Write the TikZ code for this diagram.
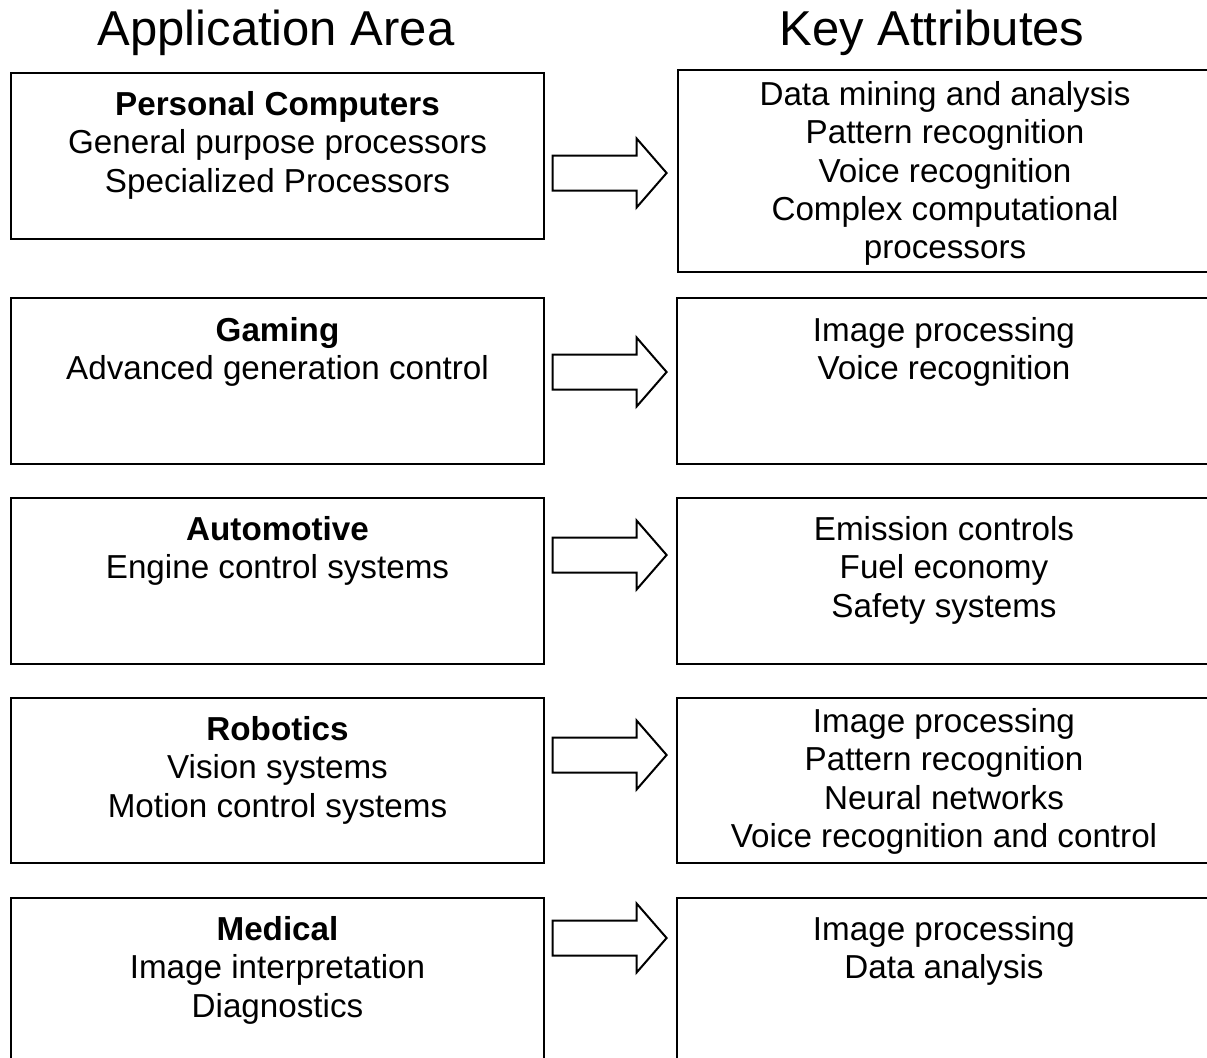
\documentclass[tikz,border=0pt]{standalone}
\usepackage{fontspec}
\setmainfont{Liberation Sans}
\usepackage{tikz}
\usetikzlibrary{positioning}
\usetikzlibrary{shapes.arrows}

\tikzset{areabox/.style={draw,line width=1pt,rectangle,inner sep=0pt,anchor=north west}}
\tikzset{boxtext/.style={align=center,inner sep=0pt,font=\fontsize{16.6}{19.15}\selectfont}}
\tikzset{heading/.style={anchor=base,inner sep=0pt,font=\fontsize{24.5}{29}\selectfont}}
\tikzset{blockarrow/.style={draw,line width=1pt,single arrow,single arrow head extend=8.5pt,
  single arrow tip angle=98,inner xsep=0pt,inner ysep=8.25pt,minimum height=57pt}}

\begin{document}
\begin{tikzpicture}[x=0.5pt,y=-0.5pt]
\useasboundingbox (0,0) rectangle (1207,1057);
\node[heading] (apphead) at (276,45) {Application Area};
\node[heading] (keyhead) at (932,45) {Key Attributes};
\begin{scope}
\clip (0,0) rectangle (1207,1057);
% application areas
\node[areabox,minimum width=266.5pt,minimum height=83pt] (app1) at (10,72) {};
\node[areabox,minimum width=266.5pt,minimum height=83pt] (app2) at (10,297) {};
\node[areabox,minimum width=266.5pt,minimum height=83pt] (app3) at (10,497) {};
\node[areabox,minimum width=266.5pt,minimum height=82.5pt] (app4) at (10,697) {};
\node[areabox,minimum width=266.5pt,minimum height=90pt] (app5) at (10,897) {};
% key attributes
\node[areabox,minimum width=267pt,minimum height=101pt] (key1) at (677,69) {};
\node[areabox,minimum width=267pt,minimum height=83pt] (key2) at (676,297) {};
\node[areabox,minimum width=267pt,minimum height=83pt] (key3) at (676,497) {};
\node[areabox,minimum width=267pt,minimum height=82.5pt] (key4) at (676,697) {};
\node[areabox,minimum width=267pt,minimum height=90pt] (key5) at (676,897) {};
\end{scope}

\node[boxtext,below=9.5pt of app1.north] (app1t) {\textbf{Personal Computers}\\General purpose processors\\Specialized Processors};
\node[boxtext,below=10pt of app2.north] (app2t) {\textbf{Gaming}\\Advanced generation control};
\node[boxtext,below=9.5pt of app3.north] (app3t) {\textbf{Automotive}\\Engine control systems};
\node[boxtext,below=9.5pt of app4.north] (app4t) {\textbf{Robotics}\\Vision systems\\Motion control systems};
\node[boxtext,below=9.5pt of app5.north] (app5t) {\textbf{Medical}\\Image interpretation\\Diagnostics};

\node[boxtext,below=6pt of key1.north] (key1t) {Data mining and analysis\\Pattern recognition\\Voice recognition\\Complex computational\\processors};
\node[boxtext,below=10pt of key2.north] (key2t) {Image processing\\Voice recognition};
\node[boxtext,below=9.5pt of key3.north] (key3t) {Emission controls\\Fuel economy\\Safety systems};
\node[boxtext,below=5.5pt of key4.north] (key4t) {Image processing\\Pattern recognition\\Neural networks\\Voice recognition and control};
\node[boxtext,below=9.5pt of key5.north] (key5t) {Image processing\\Data analysis};

\foreach \y [count=\i] in {173,372,555,755,938} {
\node[blockarrow] (arr\i) at (602,\y) {};
}
\end{tikzpicture}
\end{document}
